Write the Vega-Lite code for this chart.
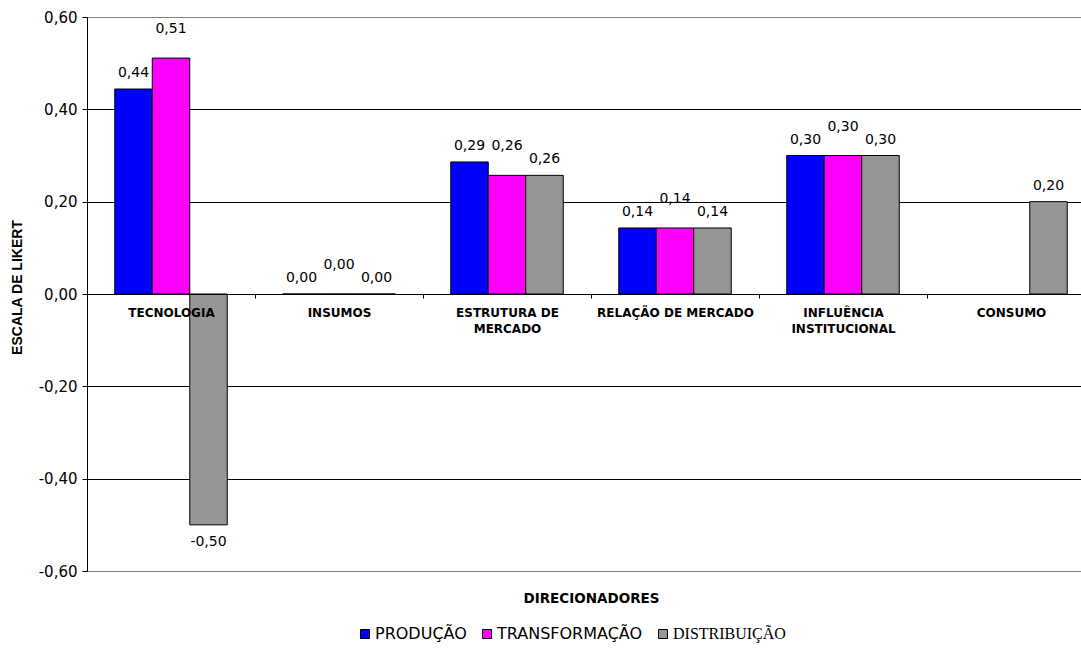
{
  "$schema": "https://vega.github.io/schema/vega-lite/v6.json",
  "width": 994,
  "height": 554,
  "autosize": {"type": "none"},
  "padding": {"left": 87, "top": 17, "right": 0, "bottom": 77},
  "background": "white",
  "config": {
    "view": {"stroke": null},
    "font": "DejaVu Sans",
    "locale": {
      "number": {"decimal": ",", "thousands": ".", "grouping": [3], "currency": ["", ""], "minus": "-"}
    }
  },
  "data": {
    "values": [
      {"cat": "TECNOLOGIA", "serie": "PRODUÇÃO", "v": 0.444},
      {"cat": "TECNOLOGIA", "serie": "TRANSFORMAÇÃO", "v": 0.511},
      {"cat": "TECNOLOGIA", "serie": "DISTRIBUIÇÃO", "v": -0.5},
      {"cat": "INSUMOS", "serie": "PRODUÇÃO", "v": 0},
      {"cat": "INSUMOS", "serie": "TRANSFORMAÇÃO", "v": 0},
      {"cat": "INSUMOS", "serie": "DISTRIBUIÇÃO", "v": 0},
      {"cat": "ESTRUTURA DE MERCADO", "serie": "PRODUÇÃO", "v": 0.286},
      {"cat": "ESTRUTURA DE MERCADO", "serie": "TRANSFORMAÇÃO", "v": 0.257},
      {"cat": "ESTRUTURA DE MERCADO", "serie": "DISTRIBUIÇÃO", "v": 0.257},
      {"cat": "RELAÇÃO DE MERCADO", "serie": "PRODUÇÃO", "v": 0.143},
      {"cat": "RELAÇÃO DE MERCADO", "serie": "TRANSFORMAÇÃO", "v": 0.143},
      {"cat": "RELAÇÃO DE MERCADO", "serie": "DISTRIBUIÇÃO", "v": 0.143},
      {"cat": "INFLUÊNCIA INSTITUCIONAL", "serie": "PRODUÇÃO", "v": 0.3},
      {"cat": "INFLUÊNCIA INSTITUCIONAL", "serie": "TRANSFORMAÇÃO", "v": 0.3},
      {"cat": "INFLUÊNCIA INSTITUCIONAL", "serie": "DISTRIBUIÇÃO", "v": 0.3},
      {"cat": "CONSUMO", "serie": "DISTRIBUIÇÃO", "v": 0.2}
    ]
  },
  "encoding": {
    "x": {
      "field": "cat",
      "type": "nominal",
      "sort": ["TECNOLOGIA", "INSUMOS", "ESTRUTURA DE MERCADO", "RELAÇÃO DE MERCADO", "INFLUÊNCIA INSTITUCIONAL", "CONSUMO"],
      "scale": {"range": [0, 1008], "paddingInner": 0, "paddingOuter": 0},
      "axis": {
        "title": "DIRECIONADORES",
        "orient": "bottom",
        "offset": -277,
        "zindex": 1,
        "grid": false,
        "tickBand": "extent",
        "domainColor": "black",
        "domainWidth": 1,
        "tickColor": "black",
        "tickSize": 4,
        "labelPadding": 9,
        "labelAngle": 0,
        "labelFont": "DejaVu Sans",
        "labelFontWeight": "bold",
        "labelFontSize": 12,
        "labelColor": "black",
        "labelLineHeight": 16,
        "labelLimit": 400,
        "labelOverlap": false,
        "labelExpr": "datum.label == 'ESTRUTURA DE MERCADO' ? ['ESTRUTURA DE', 'MERCADO'] : datum.label == 'INFLUÊNCIA INSTITUCIONAL' ? ['INFLUÊNCIA', 'INSTITUCIONAL'] : datum.label",
        "titleFont": "DejaVu Sans",
        "titleFontWeight": "bold",
        "titleFontSize": 13.5,
        "titleColor": "black",
        "titleY": 304,
        "titleBaseline": "middle"
      }
    },
    "xOffset": {
      "field": "serie",
      "type": "nominal",
      "sort": ["PRODUÇÃO", "TRANSFORMAÇÃO", "DISTRIBUIÇÃO"],
      "scale": {"domain": ["PRODUÇÃO", "TRANSFORMAÇÃO", "DISTRIBUIÇÃO"], "paddingInner": 0, "paddingOuter": 0.74}
    },
    "y": {
      "field": "v",
      "type": "quantitative",
      "scale": {"domain": [-0.6, 0.6], "nice": false, "zero": false},
      "axis": {
        "title": "ESCALA DE LIKERT",
        "values": [-0.6, -0.4, -0.2, 0, 0.2, 0.4, 0.6],
        "format": ".2f",
        "grid": true,
        "gridColor": {"condition": {"test": "abs(datum.value) > 0.59", "value": "#808080"}, "value": "black"},
        "gridWidth": 1,
        "domainColor": "black",
        "tickColor": "black",
        "tickSize": 5,
        "labelPadding": 5,
        "labelFont": "DejaVu Sans",
        "labelFontSize": 15,
        "labelColor": "black",
        "labelFlush": false,
        "titleFont": "Liberation Sans",
        "titleFontWeight": "bold",
        "titleFontSize": 14,
        "titleColor": "black",
        "titleAngle": 270,
        "titleX": -70,
        "titleY": 270,
        "titleAlign": "center",
        "titleBaseline": "middle"
      }
    }
  },
  "layer": [
    {
      "mark": {"type": "bar", "stroke": "black", "strokeWidth": 1},
      "encoding": {
        "color": {
          "field": "serie",
          "type": "nominal",
          "scale": {"domain": ["PRODUÇÃO", "TRANSFORMAÇÃO", "DISTRIBUIÇÃO"], "range": ["#0000FF", "#FF00FF", "#969696"]},
          "legend": {
            "orient": "none",
            "legendX": 270,
            "legendY": 609,
            "direction": "horizontal",
            "title": null,
            "symbolType": "square",
            "symbolSize": 81,
            "symbolStrokeColor": "black",
            "symbolStrokeWidth": 1,
            "labelFontSize": 16,
            "labelFont": {"expr": "datum.label == 'DISTRIBUIÇÃO' ? 'Liberation Serif' : 'DejaVu Sans'"},
            "labelColor": "black",
            "labelOffset": 2,
            "columnPadding": 12
          }
        }
      }
    },
    {
      "transform": [{"filter": "datum.serie != 'TRANSFORMAÇÃO' && datum.v >= 0"}],
      "mark": {"type": "text", "dy": -16, "baseline": "middle", "font": "DejaVu Sans", "fontSize": 14, "color": "black"},
      "encoding": {"text": {"field": "v", "type": "quantitative", "format": ".2f"}}
    },
    {
      "transform": [{"filter": "datum.serie == 'TRANSFORMAÇÃO' && datum.v >= 0"}],
      "mark": {"type": "text", "dy": -29, "baseline": "middle", "font": "DejaVu Sans", "fontSize": 14, "color": "black"},
      "encoding": {"text": {"field": "v", "type": "quantitative", "format": ".2f"}}
    },
    {
      "transform": [{"filter": "datum.v < 0"}],
      "mark": {"type": "text", "dy": 17, "baseline": "middle", "font": "DejaVu Sans", "fontSize": 14, "color": "black"},
      "encoding": {"text": {"field": "v", "type": "quantitative", "format": ".2f"}}
    }
  ]
}
